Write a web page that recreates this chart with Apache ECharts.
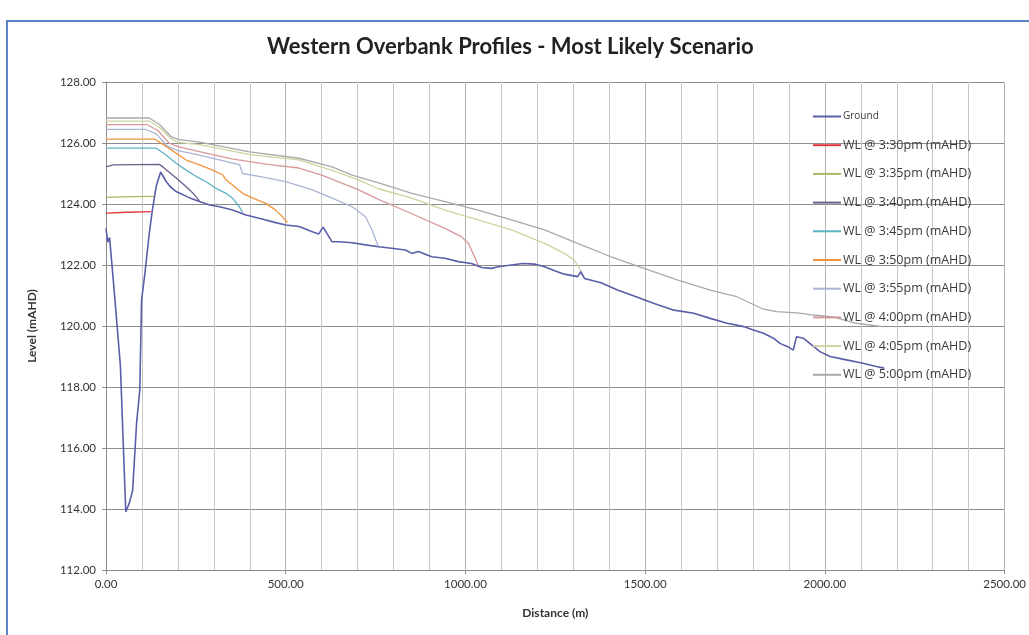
<!DOCTYPE html>
<html>
<head>
<meta charset="utf-8">
<style>
  html, body { margin: 0; padding: 0; background: #ffffff; }
  #chart { width: 1029px; height: 635px; }
</style>
<script src="https://cdn.jsdelivr.net/npm/echarts@6/dist/echarts.min.js"></script>
</head>
<body>
<div id="chart"></div>
<script>
// distance (m), level (mAHD)
var ground = [
  [0, 123.2], [5, 122.75], [10, 122.9], [25, 120.85], [40, 118.7], [55, 113.9], [65, 114.2],
  [74, 114.6], [85, 116.8], [94, 117.9], [99, 120.85], [108, 121.7], [120, 123.0], [129, 123.8],
  [140, 124.6], [152, 125.05], [168, 124.73], [180, 124.55], [196, 124.4], [215, 124.3],
  [233, 124.2], [260, 124.08], [288, 123.97], [316, 123.91], [352, 123.8], [389, 123.64],
  [426, 123.53], [472, 123.39], [500, 123.31], [537, 123.26], [574, 123.09], [592, 123.02],
  [604, 123.24], [620, 122.93], [629, 122.76], [648, 122.76], [685, 122.73], [722, 122.66],
  [758, 122.6], [795, 122.55], [833, 122.49], [851, 122.38], [869, 122.44], [906, 122.27],
  [943, 122.22], [980, 122.11], [1017, 122.05], [1045, 121.92], [1072, 121.89], [1091, 121.94],
  [1128, 122.0], [1160, 122.05], [1192, 122.03], [1220, 121.94], [1250, 121.8], [1275, 121.7],
  [1312, 121.62], [1321, 121.78], [1331, 121.56], [1377, 121.42], [1423, 121.18], [1469, 120.98],
  [1525, 120.74], [1580, 120.52], [1635, 120.42], [1681, 120.25], [1728, 120.09], [1774, 119.98],
  [1801, 119.87], [1829, 119.76], [1857, 119.6], [1875, 119.43], [1900, 119.3], [1912, 119.21],
  [1921, 119.65], [1940, 119.6], [1963, 119.38], [1986, 119.16], [2014, 119.0], [2060, 118.89],
  [2106, 118.78], [2143, 118.67], [2165, 118.62]
];
var wl330 = [[0, 123.7], [60, 123.73], [125, 123.75]];
var wl335 = [[0, 124.22], [70, 124.24], [133, 124.25]];
var wl340 = [
  [0, 125.22], [20, 125.28], [148, 125.3], [160, 125.2], [180, 125.0], [200, 124.8],
  [220, 124.6], [240, 124.38], [260, 124.1]
];
var wl345 = [
  [0, 125.83], [140, 125.83], [168, 125.6], [196, 125.33], [223, 125.11], [251, 124.9],
  [279, 124.73], [306, 124.51], [334, 124.35], [352, 124.19], [371, 123.91], [380, 123.72]
];
var wl350 = [
  [0, 126.13], [135, 126.13], [168, 125.88], [196, 125.66], [223, 125.44], [260, 125.28],
  [297, 125.11], [325, 124.95], [334, 124.79], [352, 124.62], [380, 124.35], [408, 124.19],
  [445, 124.02], [472, 123.8], [491, 123.58], [505, 123.39]
];
var wl355 = [
  [0, 126.45], [110, 126.45], [140, 126.3], [170, 125.9], [200, 125.75], [260, 125.6],
  [350, 125.35], [372, 125.28], [380, 125.0], [430, 124.9], [500, 124.73], [574, 124.46],
  [629, 124.19], [685, 123.91], [722, 123.58], [740, 123.15], [754, 122.71], [758, 122.6]
];
var wl400 = [
  [0, 126.6], [115, 126.6], [145, 126.4], [175, 126.0], [200, 125.88], [260, 125.72],
  [350, 125.48], [450, 125.3], [537, 125.18], [600, 124.95], [700, 124.48], [758, 124.15],
  [851, 123.68], [943, 123.2], [988, 122.93], [1008, 122.71], [1026, 122.25], [1035, 122.0]
];
var wl405 = [
  [0, 126.72], [120, 126.72], [150, 126.5], [180, 126.15], [200, 126.02], [260, 125.95],
  [400, 125.62], [537, 125.45], [629, 125.1], [700, 124.8], [758, 124.5], [851, 124.19],
  [943, 123.8], [1035, 123.48], [1128, 123.15], [1220, 122.71], [1275, 122.38], [1303, 122.16],
  [1317, 121.89], [1325, 121.65]
];
var wl500 = [
  [0, 126.82], [120, 126.82], [150, 126.6], [180, 126.22], [200, 126.12], [260, 126.03],
  [399, 125.71], [537, 125.5], [629, 125.22], [685, 124.95], [768, 124.66], [851, 124.35],
  [943, 124.08], [1035, 123.8], [1128, 123.48], [1220, 123.15], [1312, 122.71], [1405, 122.27],
  [1497, 121.89], [1589, 121.51], [1681, 121.18], [1755, 120.96], [1829, 120.55], [1866, 120.47],
  [1930, 120.42], [1968, 120.36], [2022, 120.3], [2087, 120.09], [2161, 119.98]
];

var seriesNames = ['Ground', 'WL @ 3:30pm (mAHD)', 'WL @ 3:35pm (mAHD)', 'WL @ 3:40pm (mAHD)',
  'WL @ 3:45pm (mAHD)', 'WL @ 3:50pm (mAHD)', 'WL @ 3:55pm (mAHD)', 'WL @ 4:00pm (mAHD)',
  'WL @ 4:05pm (mAHD)', 'WL @ 5:00pm (mAHD)'];
var seriesData = [ground, wl330, wl335, wl340, wl345, wl350, wl355, wl400, wl405, wl500];
var colors = ['#5a5ea8', '#e0383a', '#a9b862', '#6a5f8c', '#5fb1c3', '#f0953e',
  '#aab4d6', '#d9999b', '#cdd4a0', '#a9a9a9'];

var myChart = echarts.init(document.getElementById('chart'));

var series = seriesData.map(function (d, i) {
  return {
    name: seriesNames[i],
    type: 'line',
    data: d,
    symbol: 'none',
    z: i === 0 ? 3 : 2,
    lineStyle: { color: colors[i], width: i === 0 ? 1.6 : 1.3 },
    itemStyle: { color: colors[i] }
  };
});

var legendData = seriesNames.map(function (n, i) {
  return i === 0 ? { name: n, textStyle: { fontSize: 10 } } : { name: n };
});

var option = {
  backgroundColor: '#ffffff',
  animation: false,
  title: {
    text: 'Western Overbank Profiles - Most Likely Scenario',
    left: 262,
    top: 31,
    textStyle: { fontFamily: 'Lato', fontSize: 22, fontWeight: 'bold', color: '#222' }
  },
  legend: {
    orient: 'vertical',
    left: 808,
    top: 103,
    icon: 'rect',
    itemWidth: 28,
    itemHeight: 2,
    itemGap: 11.7,
    data: legendData,
    textStyle: { fontFamily: 'Open Sans', fontSize: 12.5, color: '#3a3a3a', lineHeight: 17, padding: [0, 0, 0, -3] }
  },
  grid: { left: 106, right: 20, top: 82, bottom: 65 },
  xAxis: {
    type: 'value',
    min: 0,
    max: 2500,
    interval: 500,
    name: 'Distance (m)',
    nameLocation: 'middle',
    nameGap: 37,
    nameTextStyle: { fontFamily: 'Lato', fontSize: 12, fontWeight: 'bold', color: '#333' },
    axisLine: { show: true, lineStyle: { color: '#8c8c8c' } },
    axisTick: { show: true, length: 4, lineStyle: { color: '#8c8c8c' } },
    axisLabel: {
      color: '#333', fontFamily: 'Lato', fontSize: 11.5, margin: 8,
      formatter: function (v) { return v.toFixed(2); }
    },
    splitLine: { show: true, lineStyle: { color: '#b0b0b0', width: 1 } },
    minorTick: { show: false, splitNumber: 5 },
    minorSplitLine: { show: true, lineStyle: { color: '#c8c8c8', width: 1 } }
  },
  yAxis: {
    type: 'value',
    min: 112,
    max: 128,
    interval: 2,
    name: 'Level (mAHD)',
    nameLocation: 'middle',
    nameGap: 68,
    nameTextStyle: { fontFamily: 'Lato', fontSize: 12, fontWeight: 'bold', color: '#333' },
    axisLine: { show: true, lineStyle: { color: '#8c8c8c' } },
    axisTick: { show: true, length: 4, lineStyle: { color: '#8c8c8c' } },
    axisLabel: {
      color: '#333', fontFamily: 'Lato', fontSize: 11.5, margin: 10,
      formatter: function (v) { return v.toFixed(2); }
    },
    splitLine: { show: true, lineStyle: { color: '#8c8c8c', width: 1.2 } }
  },
  graphic: [
    {
      type: 'rect',
      shape: { x: 7, y: 21, width: 1040, height: 640 },
      style: { fill: 'none', stroke: '#5b85c3', lineWidth: 2 },
      silent: true
    }
  ],
  series: series
};

myChart.setOption(option);
</script>
</body>
</html>
